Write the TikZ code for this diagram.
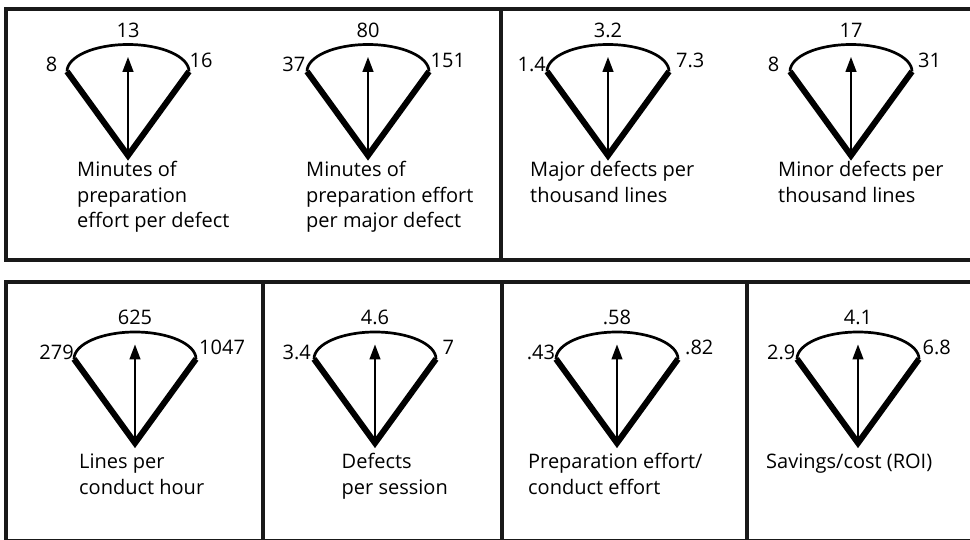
\documentclass[tikz,border=0pt]{standalone}
\usepackage{fontspec}
\setmainfont{Open Sans}
\usetikzlibrary{arrows.meta}
\tikzset{
  frame/.style={line width=4pt, draw=black!90},
  side/.style={line width=6pt, line join=miter, line cap=butt},
  rim/.style={line width=2.7pt},
  needle/.style={line width=1.4pt, -{Triangle[length=15pt,width=11pt]}},
  num/.style={inner sep=0pt, font=\fontsize{20}{24}\selectfont},
  caption/.style={inner sep=0pt, align=left, anchor=base west, font=\fontsize{20}{25.5}\selectfont},
}
% #1 name, #2 apex x, #3 apex y, #4 left value, #5 its offset, #6 mid value, #7 right value, #8 its offset
\newcommand{\meter}[8]{%
  \coordinate (#1-a) at (#2,#3);
  \coordinate (#1-l) at (#2-61,#3+84);
  \coordinate (#1-r) at (#2+61,#3+84);
  \coordinate (#1-t) at (#2,#3+98.5);
  \draw[side] (#1-l) -- (#1-a) -- (#1-r);
  \draw[rim] (#1-l) arc[start angle=180, end angle=0, x radius=61, y radius=27];
  \draw[needle] (#1-a) -- (#1-t);
  \node[num, anchor=base east] (#1-lo) at (#2-61+#5,#3+83.5) {#4};
  \node[num, anchor=base] (#1-mid) at (#2,#3+118) {#6};
  \node[num, anchor=base west] (#1-hi) at (#2+61+#8,#3+88) {#7};
}
\begin{document}
\begin{tikzpicture}[x=1pt,y=1pt]
\useasboundingbox (0,0) rectangle (970,539);
% frames
\draw[frame] (970,529.5) -- (5.5,529.5) -- (5.5,279) -- (970,279);
\draw[frame] (500.5,529.5) -- (500.5,279);
\draw[frame] (970,257) -- (5.5,257) -- (5.5,-2) -- (970,-2);
\draw[frame] (263,257) -- (263,-2);
\draw[frame] (501.5,257) -- (501.5,-2);
\draw[frame] (746.5,257) -- (746.5,-2);
% top row (caption anchor = baseline of the last line)
\meter{g1}{128}{383.5}{8}{-9.5}{13}{16}{0.5}
\node[caption] (c1) at (77,311) {Minutes of\\preparation\\effort per defect};
\meter{g2}{368}{383.5}{37}{-1.5}{80}{151}{1.5}
\node[caption] (c2) at (306,311) {Minutes of\\preparation effort\\per major defect};
\meter{g3}{608}{383.5}{1.4}{-1}{3.2}{7.3}{7}
\node[caption] (c3) at (530,336.5) {Major defects per\\thousand lines};
\meter{g4}{851}{383.5}{8}{-10.5}{17}{31}{6}
\node[caption] (c4) at (778,336.5) {Minor defects per\\thousand lines};
% bottom row
\meter{g5}{135}{96}{279}{0}{625}{1047}{3}
\node[caption] (c5) at (79,45) {Lines per\\conduct hour};
\meter{g6}{375}{96}{3.4}{-3}{4.6}{7}{6.5}
\node[caption] (c6) at (341.5,45) {Defects\\per session};
\meter{g7}{617}{96}{.43}{-0.7}{.58}{.82}{7}
\node[caption] (c7) at (528,45) {Preparation effort/\\conduct effort};
\meter{g8}{858}{96}{2.9}{-1.5}{4.1}{6.8}{3.4}
\node[caption] (c8) at (766,70.5) {Savings/cost (ROI)};
\end{tikzpicture}
\end{document}
